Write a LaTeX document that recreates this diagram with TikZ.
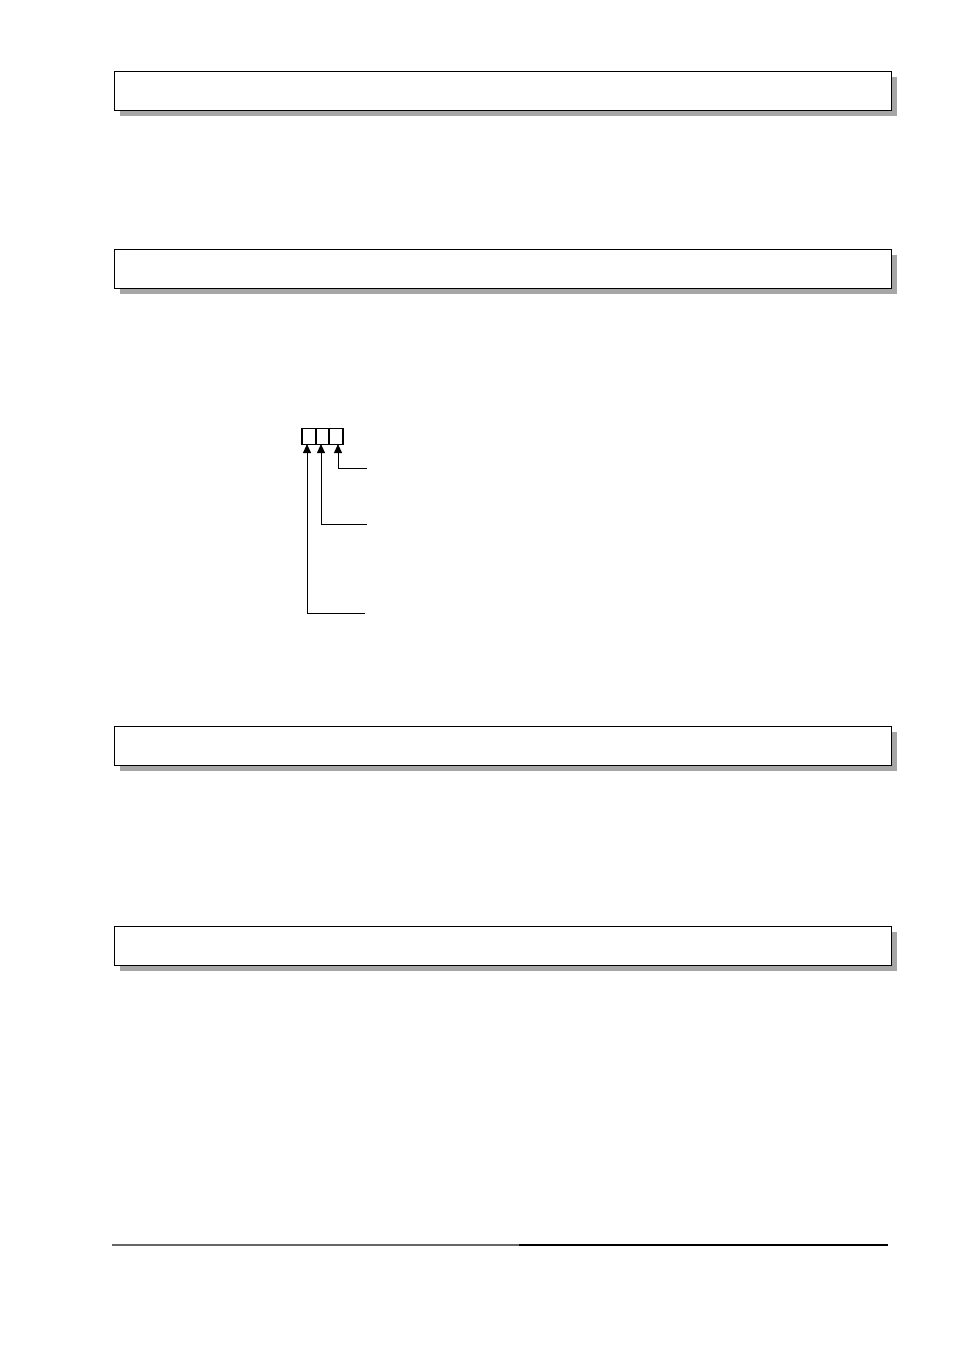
\documentclass[tikz,border=0pt]{standalone}
\usetikzlibrary{arrows.meta,shadows}
\definecolor{shade}{HTML}{A6A6A6}
\begin{document}
\begin{tikzpicture}[x=1pt,y=-1pt,
  bar/.style={draw=black,line width=1.1pt,fill=white,rectangle,inner sep=0pt,
    minimum width=777pt,minimum height=39pt,anchor=north west,
    drop shadow={shadow xshift=5pt,shadow yshift=-5pt,fill=shade,opacity=1}},
  cell/.style={draw=black,line width=1.1pt,rectangle,inner sep=0pt,minimum height=16pt},
  arr/.style={line width=0.9pt,-{Triangle[length=9pt,width=8pt]}}]
\useasboundingbox (0,0) rectangle (954,1350);
\node[bar] (b1) at (114,71) {};
\node[bar] (b2) at (114,249) {};
\node[bar] (b3) at (114,726) {};
\node[bar] (b4) at (114,926) {};
\node[cell,minimum width=14pt] (s1) at (309,436.5) {};
\node[cell,minimum width=13pt] (s2) at (322.5,436.5) {};
\node[cell,minimum width=14pt] (s3) at (336,436.5) {};
\coordinate (e3) at (367,468);
\coordinate (e2) at (367,524);
\coordinate (e1) at (365,613);
\draw[arr] (e3) -| ([xshift=2pt,yshift=1pt]s3.south);
\draw[arr] (e2) -| ([xshift=-1.5pt,yshift=1pt]s2.south);
\draw[arr] (e1) -| ([xshift=-2pt,yshift=1pt]s1.south);
\coordinate (f0) at (112,1245);
\coordinate (f1) at (519,1245);
\coordinate (f2) at (888,1245);
\draw[line width=1.2pt,black!60] (f0) -- (f1);
\draw[line width=1.2pt,black] (f1) -- (f2);
\end{tikzpicture}
\end{document}
